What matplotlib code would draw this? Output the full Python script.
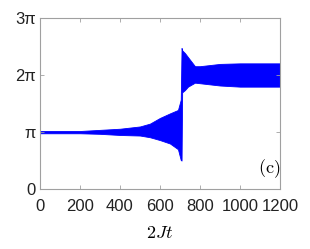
import numpy as np
import matplotlib
matplotlib.use('Agg')
import matplotlib.pyplot as plt

# envelope of the oscillating phase (units of pi)
t_env = [0, 200, 300, 400, 500, 550, 600, 650, 690, 704, 708, 711, 725, 740, 775, 800, 900, 1000, 1200]
upper = [1.02, 1.02, 1.04, 1.06, 1.10, 1.15, 1.25, 1.33, 1.39, 1.57, 2.48, 2.44, 2.39, 2.32, 2.16, 2.16, 2.20, 2.21, 2.21]
lower = [0.98, 0.98, 0.97, 0.95, 0.94, 0.91, 0.86, 0.80, 0.70, 0.51, 0.50, 1.70, 1.74, 1.80, 1.87, 1.86, 1.82, 1.80, 1.80]

xticks = [0, 200, 400, 600, 800, 1000, 1200]
yticks = [0, 1, 2, 3]
ylabels = ['0', 'π', '2π', '3π']

plt.rcParams['font.family'] = ['Liberation Sans Narrow', 'Liberation Sans', 'DejaVu Sans']
plt.rcParams['mathtext.fontset'] = 'cm'

fig = plt.figure(figsize=(3.1, 2.49), dpi=100)
ax = fig.add_axes([0.129, 0.241, 0.774, 0.685])

t = np.array(t_env)
ax.fill_between(t, np.array(lower) * np.pi, np.array(upper) * np.pi,
                color='#0000ff', linewidth=0.6, edgecolor='#0000ff')

ax.set_xlim(0, 1200)
ax.set_ylim(0, 3 * np.pi)
ax.set_xticks(xticks)
ax.set_xticklabels([str(v) for v in xticks])
ax.set_yticks([v * np.pi for v in yticks])
ax.set_yticklabels(ylabels)

for s in ax.spines.values():
    s.set_color('#a0a0a0')
    s.set_linewidth(0.8)
ax.tick_params(direction='in', length=3, width=0.6, color='#a0a0a0',
               labelsize=12, labelcolor='#222222', top=True, right=True)
ax.tick_params(axis='x', pad=7)
ax.tick_params(axis='y', pad=3)

ax.set_xlabel('$2Jt$', fontsize=13, labelpad=8)
ax.text(0.955, 0.12, r'$\mathrm{(c)}$', transform=ax.transAxes,
        fontsize=13, ha='center', va='center')

fig.savefig('out.png', dpi=100)
